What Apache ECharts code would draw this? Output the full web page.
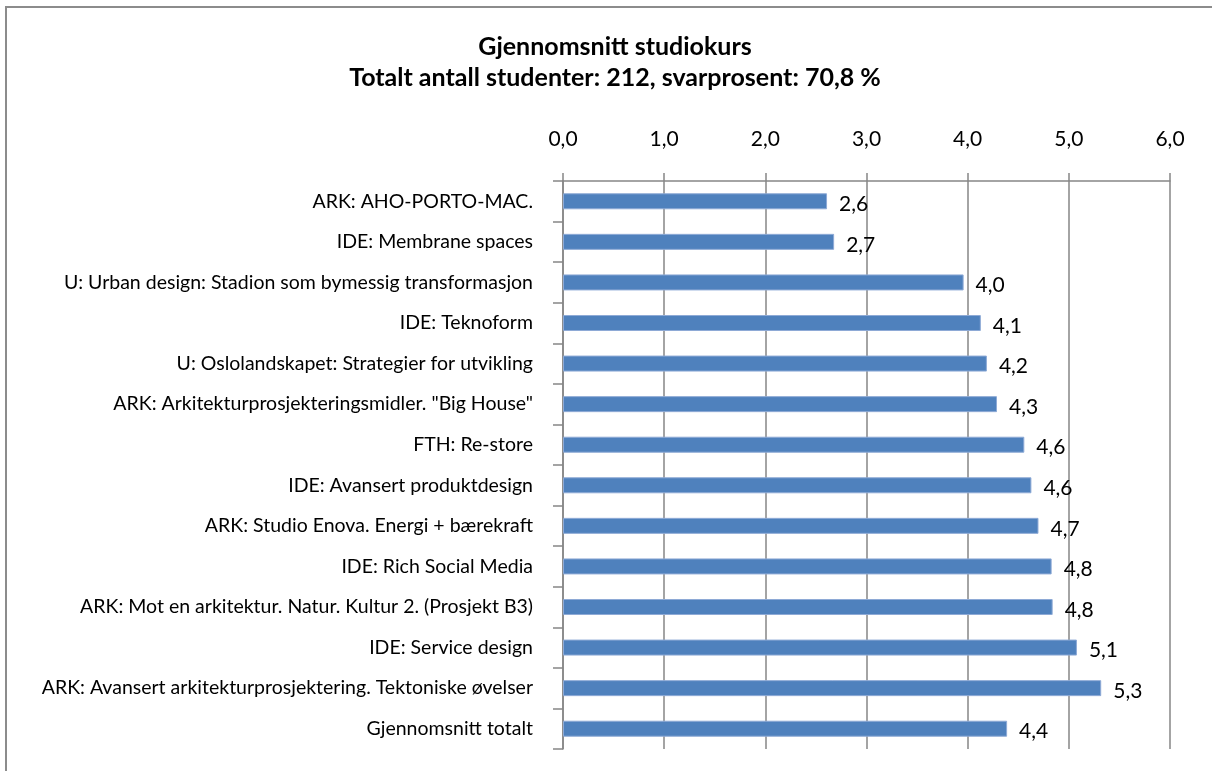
<!DOCTYPE html>
<html>
<head>
<meta charset="utf-8">
<script src="https://cdn.jsdelivr.net/npm/echarts@6/dist/echarts.min.js"></script>
<style>
  html, body { margin: 0; padding: 0; background: #fff; }
  #frame {
    position: absolute; left: 5px; top: 6px; width: 1300px; height: 900px;
    border-left: 2px solid #8c8c8c; border-top: 2px solid #8c8c8c;
  }
  #chart { position: absolute; left: 0; top: 0; width: 1212px; height: 771px; }
</style>
</head>
<body>
<div id="frame"></div>
<div id="chart"></div>
<script>
const titleLines = ['Gjennomsnitt studiokurs', 'Totalt antall studenter: 212, svarprosent: 70,8 %'];

const courses = [
  'ARK: AHO-PORTO-MAC.',
  'IDE: Membrane spaces',
  'U: Urban design: Stadion som bymessig transformasjon',
  'IDE: Teknoform',
  'U: Oslolandskapet: Strategier for utvikling',
  'ARK: Arkitekturprosjekteringsmidler. "Big House"',
  'FTH: Re-store',
  'IDE: Avansert produktdesign',
  'ARK: Studio Enova. Energi + bærekraft',
  'IDE: Rich Social Media',
  'ARK: Mot en arkitektur. Natur. Kultur 2. (Prosjekt B3)',
  'IDE: Service design',
  'ARK: Avansert arkitekturprosjektering. Tektoniske øvelser',
  'Gjennomsnitt totalt'
];

const averages = [2.61, 2.68, 3.96, 4.13, 4.19, 4.29, 4.56, 4.63, 4.70, 4.83, 4.84, 5.08, 5.32, 4.39];

const fmt = v => v.toFixed(1).replace('.', ',');
const font = 'Lato, "Noto Sans", sans-serif';
const grey = '#868686';

const chart = echarts.init(document.getElementById('chart'));

chart.setOption({
  animation: false,
  textStyle: { fontFamily: font },
  title: {
    text: titleLines.join('\n'),
    left: 610,
    textAlign: 'center',
    top: 26,
    textStyle: { fontFamily: font, fontSize: 25, fontWeight: 'bold', color: '#000', lineHeight: 31 }
  },
  grid: { left: 563, right: 42, top: 181, bottom: 22, containLabel: false, outerBoundsMode: 'none' },
  xAxis: {
    type: 'value',
    position: 'top',
    min: 0,
    max: 6,
    interval: 1,
    axisLine: { show: true, lineStyle: { color: grey, width: 1.5 } },
    axisTick: { show: true, length: 8, lineStyle: { color: grey, width: 1.5 } },
    splitLine: { show: true, lineStyle: { color: grey, width: 1.5 } },
    axisLabel: { formatter: v => fmt(v), fontSize: 21, color: '#000', margin: 31, fontFamily: font }
  },
  yAxis: {
    type: 'category',
    inverse: true,
    data: courses,
    axisLine: { show: true, lineStyle: { color: grey, width: 1.5 } },
    axisTick: { show: true, length: 10, lineStyle: { color: grey, width: 1.5 } },
    axisLabel: { fontSize: 19.5, color: '#000', margin: 30, fontFamily: font }
  },
  series: [{
    type: 'bar',
    data: averages,
    barWidth: 16,
    itemStyle: { color: '#4F81BD', borderColor: '#8eaad6', borderWidth: 1 },
    label: {
      show: true,
      position: 'right',
      distance: 12,
      offset: [0, 3],
      formatter: p => fmt(p.value),
      fontSize: 21,
      color: '#000',
      fontFamily: font
    }
  }]
});
</script>
</body>
</html>
